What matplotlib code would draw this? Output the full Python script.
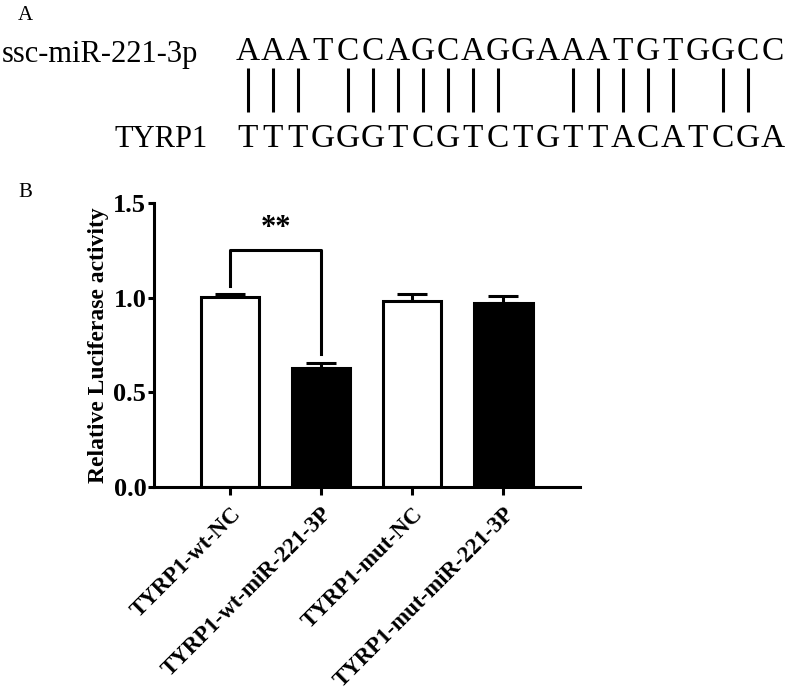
import matplotlib
matplotlib.use("Agg")
import matplotlib.pyplot as plt

# panel A: sequences
mirna_name = "ssc-miR-221-3p"
target_name = "TYRP1"
mirna_seq = "AAATCCAGCAGGAAATGTGGCC"
target_seq = "TTTGGGTCGTCTGTTACATCGA"

# panel B: luciferase assay
groups = ["TYRP1-wt-NC", "TYRP1-wt-miR-221-3P", "TYRP1-mut-NC", "TYRP1-mut-miR-221-3P"]
means = [1.005, 0.63, 0.98, 0.97]
errs = [0.015, 0.025, 0.04, 0.04]
fills = ["white", "black", "white", "black"]
sig_pair = (0, 1)
sig_label = "**"

pairs = {("A", "T"), ("T", "A"), ("G", "C"), ("C", "G")}

plt.rcParams["font.family"] = ["Liberation Serif", "DejaVu Serif"]

W, H = 786, 694
fig = plt.figure(figsize=(W / 100, H / 100), dpi=100)

# ---- panel A, drawn in pixel coordinates
axA = fig.add_axes([0, 0, 1, 1])
axA.set_xlim(0, W)
axA.set_ylim(H, 0)
axA.axis("off")

axA.text(18, 20, "A", fontsize=15, ha="left", va="baseline")
axA.text(198, 62, mirna_name, fontsize=22, ha="right", va="baseline")
axA.text(208, 147, target_name, fontsize=22, ha="right", va="baseline")

x0, step = 247.5, 25
for i, (a, b) in enumerate(zip(mirna_seq, target_seq)):
    cx = x0 + step * i
    axA.text(cx, 60, a, fontsize=24, ha="center", va="baseline")
    axA.text(cx, 147, b, fontsize=24, ha="center", va="baseline")
    if (a, b) in pairs:
        axA.plot([cx, cx], [68, 112], color="black", lw=2.2, solid_capstyle="butt")

axA.text(18, 197, "B", fontsize=15, ha="left", va="baseline")

# ---- panel B
ax = fig.add_axes([154 / W, 1 - 487 / H, (580 - 154) / W, (487 - 203) / H])
x = list(range(len(groups)))
ax.bar(x, means, width=0.64, color=fills, edgecolor="black", linewidth=2.2, zorder=2)
ax.errorbar(x, means, yerr=[[0] * len(errs), errs], fmt="none", ecolor="black",
            elinewidth=2.2, capsize=10.5, capthick=2.2, zorder=1)

i, j = sig_pair
top = 1.25
ax.plot([i, i, j, j],
        [means[i] + errs[i] + 0.04, top, top, means[j] + errs[j] + 0.045],
        color="black", lw=2.2, clip_on=False)
ax.text((i + j) / 2, top + 0.04, sig_label, ha="center", va="bottom",
        fontsize=22, fontweight="bold")

ax.set_xlim(-0.835, 3.84)
ax.set_ylim(0, 1.5)
ax.set_yticks([0, 0.5, 1.0, 1.5])
ax.set_yticklabels(["0.0", "0.5", "1.0", "1.5"], fontsize=19, fontweight="bold")
ax.set_xticks(x)
ax.set_xticklabels(groups, rotation=45, ha="right", va="top",
                   rotation_mode="anchor", fontsize=16.5, fontweight="bold")
ax.set_ylabel("Relative Luciferase activity", fontsize=17, fontweight="bold", labelpad=3)

for s in ["top", "right"]:
    ax.spines[s].set_visible(False)
for s in ["left", "bottom"]:
    ax.spines[s].set_linewidth(2.2)
ax.tick_params(axis="y", length=4.5, width=2.2, pad=1)
ax.tick_params(axis="x", length=6, width=2.2, pad=6)

fig.savefig("out.png", dpi=100)
